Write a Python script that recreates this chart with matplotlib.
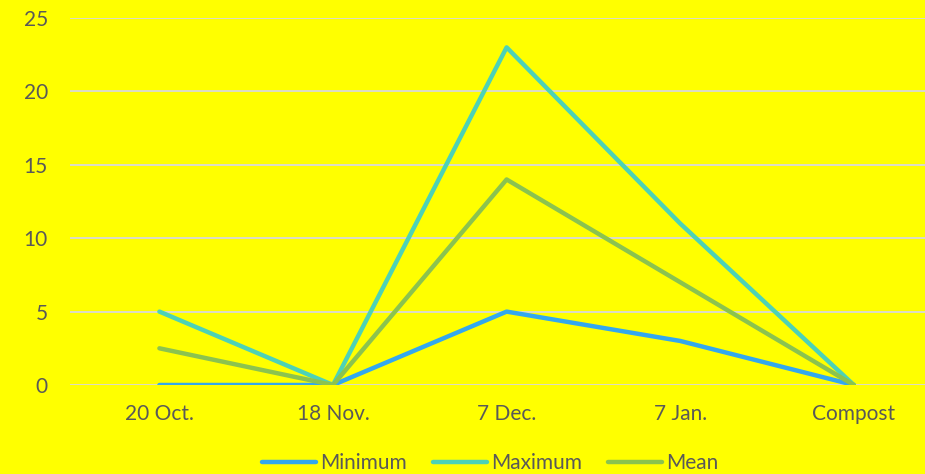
import matplotlib
matplotlib.use("Agg")
import matplotlib.pyplot as plt
from matplotlib.lines import Line2D

categories = ["20 Oct.", "18 Nov.", "7 Dec.", "7 Jan.", "Compost"]
minimum = [0, 0, 5, 3, 0]
maximum = [5, 0, 23, 11, 0]
mean = [2.5, 0, 14, 7, 0]
yticks = [0, 5, 10, 15, 20, 25]

plt.rcParams['font.family'] = ['Lato', 'DejaVu Sans']
text_color = "#595959"
bg = "#FFFF00"

fig = plt.figure(figsize=(9.25, 4.74), dpi=100, facecolor=bg)
ax = fig.add_axes([70/925, 89/474, 855/925, 367/474], facecolor=bg)

x = list(range(len(categories)))
series = [("Minimum", minimum, "#33A8EE"),
          ("Maximum", maximum, "#4DD2B6"),
          ("Mean", mean, "#8BC34F")]
for name, vals, col in series:
    ax.plot(x, vals, color=col, lw=3.2, solid_capstyle="round",
            solid_joinstyle="round", label=name, zorder=3)

ax.set_ylim(0, 25)
ax.set_yticks(yticks)
ax.set_xticks(x)
ax.set_xticklabels(categories)
ax.set_xlim(-0.515, 4.41)
ax.grid(axis="y", color="#D9D9D9", lw=1.3, zorder=0)
ax.set_axisbelow(True)
for s in ax.spines.values():
    s.set_visible(False)
ax.tick_params(length=0, colors=text_color, labelsize=15)
ax.tick_params(axis="x", pad=14)
ax.tick_params(axis="y", pad=16)

handles = [Line2D([0], [0], color=c, lw=3.2, solid_capstyle="round") for _, _, c in series]
fig.legend(handles, [n for n, _, _ in series], loc="center",
           bbox_to_anchor=(0.53, 11/474), ncol=3, frameon=False,
           fontsize=15, labelcolor=text_color, handlelength=2.6,
           handletextpad=0.2, columnspacing=1.25, borderpad=0)

fig.savefig("out.png", dpi=100, facecolor=bg)
